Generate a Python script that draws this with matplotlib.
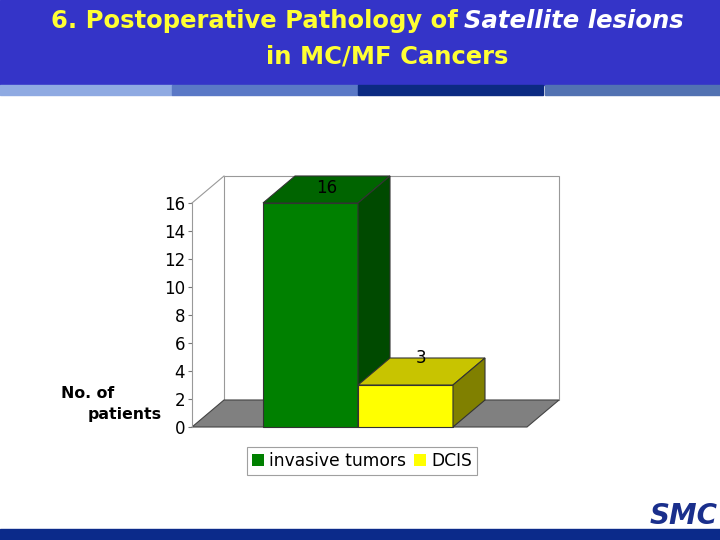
import matplotlib
matplotlib.use('Agg')
import matplotlib.pyplot as plt
from matplotlib.patches import Rectangle, Polygon, Patch

categories = ['invasive tumors', 'DCIS']
values = [16, 3]
front_colors = ['#008000', '#ffff00']
top_colors = ['#006400', '#c8c400']
side_colors = ['#004a00', '#808000']
yticks = [0, 2, 4, 6, 8, 10, 12, 14, 16]

W, H = 720, 540
fig = plt.figure(figsize=[7.2, 5.4], dpi=100)

# slide decoration in pixel coordinates
bg = fig.add_axes([0, 0, 1, 1])
bg.set_xlim(0, W)
bg.set_ylim(H, 0)
bg.axis('off')
bg.add_patch(Rectangle((0, 0), W, 85, color='#3434c8'))
for x0, x1, c in [(0, 172, '#8faae2'), (172, 357, '#5a78c6'),
                  (358, 543, '#0c2a82'), (545, 720, '#5272b2')]:
    bg.add_patch(Rectangle((x0, 85), x1 - x0, 10, color=c))
bg.add_patch(Rectangle((0, 529), W, 11, color='#0b2a8a'))

bg.text(458, 21, '6. Postoperative Pathology of', color='#ffff33',
        fontsize=17.5, fontweight='bold', ha='right', va='center')
bg.text(464, 21, 'Satellite lesions', color='white', fontsize=17.5,
        fontweight='bold', style='italic', ha='left', va='center')
bg.text(387, 56, 'in MC/MF Cancers', color='#ffff33', fontsize=17.5,
        fontweight='bold', ha='center', va='center')
bg.text(61, 393, 'No. of', fontsize=11.3, fontweight='bold', va='center')
bg.text(88, 415, 'patients', fontsize=11.3, fontweight='bold', va='center')
bg.text(718, 516, 'SMC', color='#1a2f8c', fontsize=20, fontweight='bold',
        style='italic', ha='right', va='center')

# 3D-looking bar chart
px_x = 95.0   # pixels per bar width
px_y = 14.0   # pixels per unit
dx = 32 / px_x
dy = 27 / px_y
floor_w = 335 / px_x
bar_start = 71 / px_x

ax = fig.add_axes([192 / W, 113 / H, 367 / W, 251 / H])
ax.set_xlim(0, 367 / px_x)
ax.set_ylim(0, 251 / px_y)
ax.patch.set_visible(False)
for s in ['top', 'right', 'bottom']:
    ax.spines[s].set_visible(False)
ax.spines['left'].set_bounds(0, 16)
ax.spines['left'].set_color('#999999')
ax.spines['left'].set_linewidth(0.8)
ax.set_xticks([])
ax.set_yticks(yticks)
ax.tick_params(axis='y', length=3, color='#777777', labelsize=12, pad=2)

top_v = yticks[-1]
ax.add_patch(Rectangle((dx, dy), floor_w, top_v, facecolor='white',
                       edgecolor='#999999', linewidth=0.8, clip_on=False))
ax.plot([0, dx], [top_v, top_v + dy], color='#999999', linewidth=0.8,
        clip_on=False)
ax.add_patch(Polygon([(0, 0), (floor_w, 0), (floor_w + dx, dy), (dx, dy)],
                     closed=True, facecolor='#808080', edgecolor='#444444',
                     linewidth=0.8, clip_on=False))

ec = '#333333'
for i, v in enumerate(values):
    x0 = bar_start + i
    x1 = x0 + 1
    ax.add_patch(Rectangle((x0, 0), 1, v, facecolor=front_colors[i],
                           edgecolor=ec, linewidth=0.8, clip_on=False))
    ax.add_patch(Polygon([(x0, v), (x1, v), (x1 + dx, v + dy), (x0 + dx, v + dy)],
                         closed=True, facecolor=top_colors[i], edgecolor=ec,
                         linewidth=0.8, clip_on=False))
    ax.add_patch(Polygon([(x1, 0), (x1 + dx, dy), (x1 + dx, v + dy), (x1, v)],
                         closed=True, facecolor=side_colors[i], edgecolor=ec,
                         linewidth=0.8, clip_on=False))
    ly = min(v + dy, ax.get_ylim()[1] - 0.85)
    ax.text(x0 + 0.5 + dx / 2, ly, str(v), ha='center', va='center',
            fontsize=12)

handles = [Patch(facecolor=front_colors[i], edgecolor='none', label=c)
           for i, c in enumerate(categories)]
leg = fig.legend(handles=handles, loc='center', ncol=2,
                 bbox_to_anchor=(362 / W, 1 - 461 / H), frameon=True,
                 fancybox=False, edgecolor='#888888', fontsize=12.3,
                 handlelength=0.7, handleheight=0.7, handletextpad=0.3,
                 columnspacing=0.5, borderpad=0.3, borderaxespad=0)
leg.get_frame().set_linewidth(0.8)

fig.savefig('out.png', dpi=100)
